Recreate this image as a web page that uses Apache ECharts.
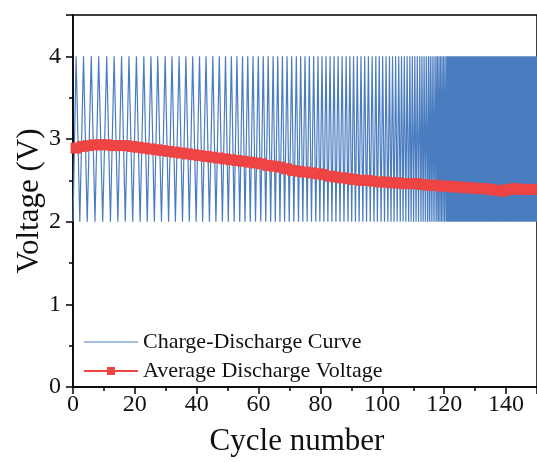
<!DOCTYPE html>
<html>
<head>
<meta charset="utf-8">
<title>Cycle voltage</title>
<script src="https://cdn.jsdelivr.net/npm/echarts@6/dist/echarts.min.js"></script>
<style>
  html, body { margin: 0; padding: 0; background: #fff; }
  #main { width: 537px; height: 462px; }
</style>
</head>
<body>
<div id="main"></div>
<script>
// 充放电曲线：上拐点 (4.0 V) 和下拐点 (2.0 V) 的循环位置
const peakX = [
  1.0, 3.4, 5.9, 8.3, 10.9, 13.3, 15.7, 18.1, 20.5, 22.9, 25.2, 27.4, 29.8, 32.0, 34.3, 36.5, 38.7, 40.9, 43.0, 45.2, 47.3, 49.3,
  51.2, 53.0, 54.8, 56.5, 58.2, 59.9, 61.5, 63.1, 64.7, 66.2, 67.7, 69.2, 70.7, 72.2, 73.6, 75.0, 76.4, 77.8, 79.2, 80.5,
  81.8, 83.1, 84.4, 85.7, 87.0, 88.3, 89.5, 90.7, 91.9, 93.1, 94.3, 95.5, 96.7, 97.9, 99.0,
  100.1, 101.2, 102.3, 103.3, 104.3, 105.3, 106.2, 107.1, 108.0, 108.9, 109.7, 110.5, 111.3, 112.1, 112.8, 113.5, 114.2,
  114.9, 115.5, 116.1, 116.7, 117.3, 117.8, 118.3, 118.8, 119.3, 119.8, 120.3, 120.8, 121.2, 121.6, 122.0, 122.4, 122.8,
  123.2, 123.6, 124.0, 124.4, 124.8, 125.2, 125.6, 126.0, 126.4, 126.8, 127.2, 127.6, 128.0, 128.4, 128.8, 129.2, 129.6,
  130.0, 130.4, 130.8, 131.2, 131.6, 132.0, 132.4, 132.8, 133.2, 133.6, 134.0, 134.4, 134.8, 135.2, 135.6, 136.0, 136.4,
  136.8, 137.2, 137.6, 138.0, 138.4, 138.8, 139.2, 139.6, 140.0, 140.4, 140.8, 141.2, 141.6, 142.0, 142.4, 142.8, 143.2,
  143.6, 144.0, 144.4, 144.8, 145.2, 145.6, 146.0, 146.4, 146.8, 147.2, 147.6, 148.0, 148.4, 148.8, 149.2, 149.6, 150.0
];
const troughX = [
  0.0, 2.2, 4.6, 7.1, 9.6, 12.1, 14.5, 16.9, 19.3, 21.7, 24.0, 26.3, 28.6, 30.9, 33.1, 35.4, 37.6, 39.8, 41.9, 44.1, 46.2, 48.3,
  50.2, 52.1, 53.9, 55.6, 57.3, 59.0, 60.7, 62.3, 63.9, 65.4, 66.9, 68.4, 69.9, 71.4, 72.9, 74.3, 75.7, 77.1, 78.5, 79.8,
  81.1, 82.4, 83.7, 85.0, 86.3, 87.6, 88.9, 90.1, 91.3, 92.5, 93.7, 94.9, 96.1, 97.3, 98.4, 99.6,
  100.7, 101.8, 102.8, 103.8, 104.8, 105.8, 106.7, 107.6, 108.5, 109.3, 110.1, 110.9, 111.7, 112.5, 113.2, 113.9, 114.6,
  115.2, 115.8, 116.4, 117.0, 117.6, 118.1, 118.6, 119.1, 119.6, 120.1, 120.6, 121.0, 121.4, 121.8, 122.2, 122.6, 123.0,
  123.4, 123.8, 124.2, 124.6, 125.0, 125.4, 125.8, 126.2, 126.6, 127.0, 127.4, 127.8, 128.2, 128.6, 129.0, 129.4, 129.8,
  130.2, 130.6, 131.0, 131.4, 131.8, 132.2, 132.6, 133.0, 133.4, 133.8, 134.2, 134.6, 135.0, 135.4, 135.8, 136.2, 136.6,
  137.0, 137.4, 137.8, 138.2, 138.6, 139.0, 139.4, 139.8, 140.2, 140.6, 141.0, 141.4, 141.8, 142.2, 142.6, 143.0, 143.4,
  143.8, 144.2, 144.6, 145.0, 145.4, 145.8, 146.2, 146.6, 147.0, 147.4, 147.8, 148.2, 148.6, 149.0, 149.4, 149.8
];
const peakVoltage = 4.0;
const troughVoltage = 2.0;

// 平均放电电压 [循环数, 电压]
const avgVoltage = [
  [1, 2.89], [3, 2.91], [5, 2.92], [7, 2.93], [9, 2.93], [11, 2.93], [13, 2.92], [15, 2.92], [17, 2.92], [19, 2.91],
  [21, 2.90], [23, 2.89], [25, 2.88], [27, 2.87], [29, 2.86], [31, 2.85], [33, 2.84], [35, 2.83], [37, 2.82], [39, 2.81],
  [41, 2.80], [43, 2.79], [45, 2.78], [47, 2.77], [49, 2.76], [51, 2.75], [53, 2.74], [55, 2.73], [57, 2.72], [59, 2.71],
  [61, 2.70], [63, 2.68], [65, 2.67], [67, 2.66], [69, 2.64], [71, 2.62], [73, 2.61], [75, 2.60], [77, 2.59], [79, 2.58],
  [81, 2.57], [83, 2.55], [85, 2.54], [87, 2.53], [89, 2.52], [91, 2.51], [93, 2.50], [95, 2.50], [97, 2.49], [99, 2.48],
  [101, 2.48], [103, 2.47], [105, 2.47], [107, 2.46], [109, 2.46], [111, 2.46], [113, 2.45], [115, 2.44], [117, 2.44], [119, 2.43],
  [121, 2.43], [123, 2.42], [125, 2.42], [127, 2.41], [129, 2.41], [131, 2.40], [133, 2.40], [135, 2.39], [137, 2.38], [139, 2.37],
  [141, 2.39], [143, 2.40], [145, 2.39], [147, 2.39], [149, 2.39]
];

const xTicks = [0, 20, 40, 60, 80, 100, 120, 140];
const yTicks = [0, 1, 2, 3, 4];

// 合并拐点，按循环数排序
let curve = [];
peakX.forEach(x => curve.push([x, peakVoltage]));
troughX.forEach(x => curve.push([x, troughVoltage]));
curve.sort((a, b) => a[0] - b[0]);

const fontFamily = 'Liberation Serif';
const chart = echarts.init(document.getElementById('main'), null, { renderer: 'canvas' });

let option = {
  animation: false,
  grid: {
    left: 73,
    right: -4,
    top: 15,
    bottom: 72,
    show: true,
    borderColor: '#000',
    borderWidth: 1.5,
    backgroundColor: 'transparent'
  },
  legend: {
    orient: 'vertical',
    left: 83,
    top: 331,
    padding: 0,
    itemWidth: 54,
    itemHeight: 10,
    itemGap: 7,
    textStyle: { fontFamily: fontFamily, fontSize: 22, color: '#111', lineHeight: 22 },
    data: [
      { name: 'Charge-Discharge Curve', icon: 'path://M0,0H54V1.2H0Z' },
      'Average Discharge Voltage'
    ]
  },
  xAxis: {
    type: 'value',
    min: xTicks[0],
    max: 150,
    interval: xTicks[1] - xTicks[0],
    name: 'Cycle number',
    nameLocation: 'middle',
    nameGap: 39,
    nameMoveOverlap: false,
    nameTextStyle: { fontFamily: fontFamily, fontSize: 31, color: '#111', padding: [0, 16, 0, 0] },
    axisLine: { lineStyle: { color: '#000', width: 1.5 } },
    axisTick: { show: true, inside: false, length: 7, lineStyle: { color: '#000', width: 1.5 } },
    minorTick: { show: true, splitNumber: 2, length: 4, lineStyle: { color: '#000', width: 1.5 } },
    axisLabel: {
      margin: 6,
      showMaxLabel: false,
      fontFamily: fontFamily, fontSize: 24, color: '#111',
      formatter: v => (xTicks.indexOf(v) >= 0 ? String(v) : '')
    },
    splitLine: { show: false }
  },
  yAxis: {
    type: 'value',
    min: yTicks[0],
    max: 4.5,
    interval: yTicks[1] - yTicks[0],
    name: 'Voltage (V)',
    nameLocation: 'middle',
    nameGap: 28,
    nameMoveOverlap: false,
    nameTextStyle: { fontFamily: fontFamily, fontSize: 31, color: '#111' },
    axisLine: { lineStyle: { color: '#000', width: 1.5 } },
    axisTick: { show: true, inside: false, length: 7, lineStyle: { color: '#000', width: 1.5 } },
    minorTick: { show: true, splitNumber: 2, length: 4, lineStyle: { color: '#000', width: 1.5 } },
    axisLabel: {
      margin: 12,
      showMaxLabel: false,
      fontFamily: fontFamily, fontSize: 24, color: '#111',
      formatter: v => (yTicks.indexOf(v) >= 0 ? String(v) : '')
    },
    splitLine: { show: false }
  },
  series: [
    {
      name: 'Charge-Discharge Curve',
      type: 'line',
      data: curve,
      symbol: 'none',
      showSymbol: false,
      lineStyle: { color: '#4a7cc0', width: 1.2 },
      itemStyle: { color: '#4a7cc0' },
      z: 2
    },
    {
      name: 'Average Discharge Voltage',
      type: 'line',
      data: avgVoltage,
      symbol: 'rect',
      symbolSize: 11,
      showSymbol: true,
      lineStyle: { color: '#ee4444', width: 3 },
      itemStyle: { color: '#ee4444' },
      z: 3
    }
  ]
};

chart.setOption(option);
</script>
</body>
</html>
